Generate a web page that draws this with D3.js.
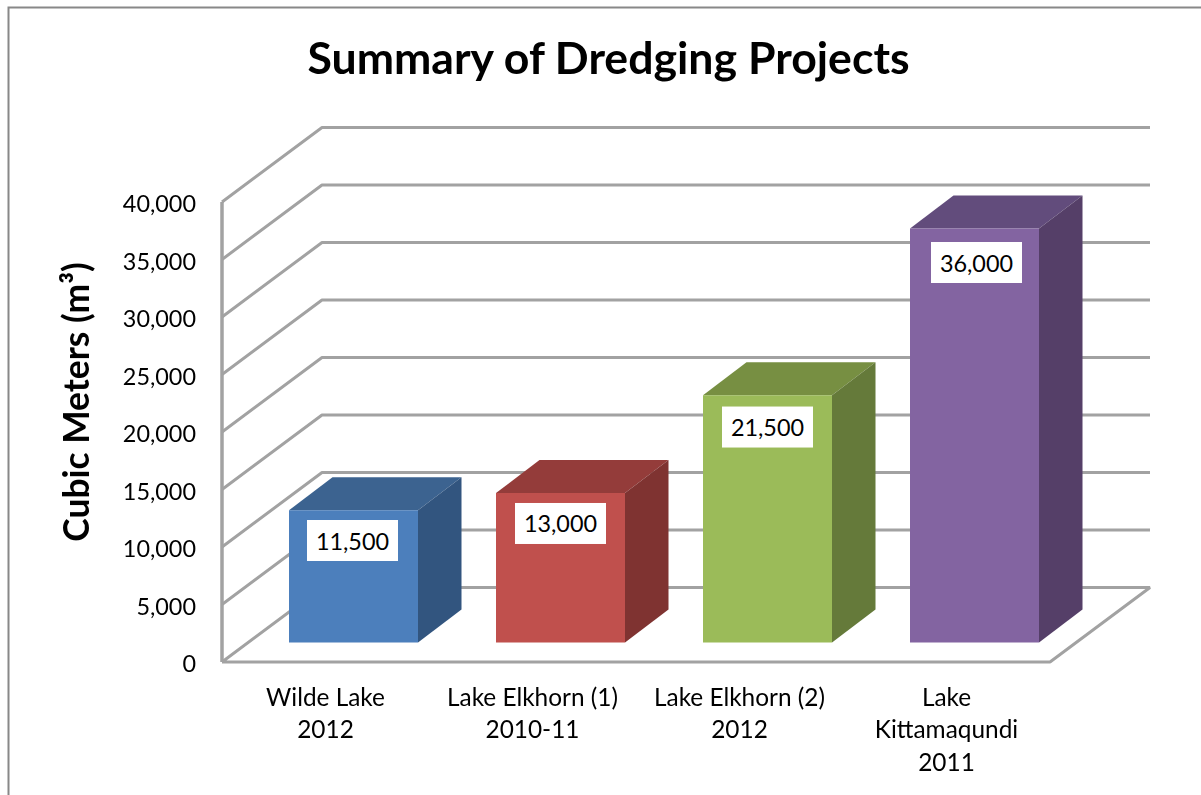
<!DOCTYPE html>
<html><head><meta charset="utf-8">
<script src="https://cdn.jsdelivr.net/npm/d3@7"></script>
<style>html,body{margin:0;padding:0;background:#fff;overflow:hidden}svg{display:block;filter:blur(0.4px)}text{font-family:Lato,"Open Sans",sans-serif;fill:#000}</style>
</head><body><div id="chart"></div>
<script>
const categories = ["Wilde Lake|2012","Lake Elkhorn (1)|2010-11","Lake Elkhorn (2)|2012","Lake|Kittamaqundi|2011"];
const values = [11500,13000,21500,36000];
const valueLabels = ["11,500","13,000","21,500","36,000"];
const tickValues = [0,5000,10000,15000,20000,25000,30000,35000,40000];
const faceColors = ["#4c7fbc","#c0504d","#9bbb59","#8364a1"];
const topColors = ["#3c6390","#943c3a","#778f42","#624c7c"];
const sideColors = ["#32557f","#7f3331","#657a3a","#553f68"];

const W=1201,H=795, GRID="#a2a2a2";
const svg=d3.select("#chart").append("svg").attr("width",W).attr("height",H);
const y=d3.scaleLinear().domain([0,40000]).range([662,202]);
const x=d3.scaleBand().domain(categories).range([222,1050]).paddingInner(78/207).paddingOuter(39/207);
const band=d3.scaleBand().domain(categories).range([222,1050]);
const back={dx:100,dy:-74.5}, front={dx:28,dy:-19.5}, depth={dx:43.5,dy:-33};
const labelY=d3.scaleLinear().domain([11500,36000]).range([540.5,262.5]);
const labelNudge=[-1,0,0,2];

svg.append("path").attr("d",`M8.5,795V7.5H${W}`).attr("fill","none").attr("stroke","#888").attr("stroke-width",2);

// walls and gridlines
const grid=svg.append("g").attr("fill","none").attr("stroke",GRID).attr("stroke-width",3).attr("stroke-linejoin","bevel");
grid.selectAll("path.g").data(tickValues.filter(d=>d>0)).join("path").attr("class","g")
  .attr("d",d=>d3.line()([[222,y(d)],[222+back.dx,y(d)+back.dy],[1050+back.dx,y(d)+back.dy]]));
grid.append("path").attr("d",d3.line()([[222,y(0)],[222+back.dx,y(0)+back.dy],[1050+back.dx,y(0)+back.dy],[1050,y(0)],[222,y(0)]]));
grid.append("path").attr("d",d3.line()([[222,y(40000)],[222,y(0)]])).attr("stroke-width",3.5);

// bars
const bars=svg.selectAll("g.bar").data(categories.map((c,i)=>({c,i,v:values[i]}))).join("g").attr("class","bar");
function geo(d){
  const x0=x(d.c)+front.dx,x1=x0+x.bandwidth(),yb=y(0)+front.dy,yt=y(d.v)+front.dy;
  return {x0,x1,yb,yt};
}
bars.append("path").attr("fill",d=>topColors[d.i]).attr("d",d=>{const g=geo(d);
  return d3.line()([[g.x0,g.yt],[g.x0+depth.dx,g.yt+depth.dy],[g.x1+depth.dx,g.yt+depth.dy],[g.x1,g.yt]])+"Z";});
bars.append("path").attr("fill",d=>sideColors[d.i]).attr("d",d=>{const g=geo(d);
  return d3.line()([[g.x1,g.yt],[g.x1+depth.dx,g.yt+depth.dy],[g.x1+depth.dx,g.yb+depth.dy],[g.x1,g.yb]])+"Z";});
bars.append("rect").attr("fill",d=>faceColors[d.i])
  .attr("x",d=>geo(d).x0).attr("y",d=>geo(d).yt).attr("width",x.bandwidth()).attr("height",d=>geo(d).yb-geo(d).yt);

// value labels
const lab=svg.selectAll("g.lab").data(categories.map((c,i)=>({c,i,v:values[i]}))).join("g").attr("class","lab")
  .attr("transform",d=>`translate(${geo(d).x0+x.bandwidth()/2+labelNudge[d.i]},${labelY(d.v)})`);
lab.append("rect").attr("x",-45.5).attr("y",-20.5).attr("width",91).attr("height",41).attr("fill","#fff");
lab.append("text").attr("text-anchor","middle").attr("y",9).attr("font-size",23.4).text(d=>valueLabels[d.i]);

// axes
const yAxis=svg.append("g").attr("transform","translate(222,0)")
  .call(d3.axisLeft(y).tickValues(tickValues).tickSize(0).tickPadding(26).tickFormat(d3.format(",")));
yAxis.select(".domain").remove();
yAxis.selectAll("text").attr("font-size",23.4).attr("font-family","Lato").attr("dy","9.5").style("fill","#000");

const xAxis=svg.append("g").attr("transform",`translate(0,662)`)
  .call(d3.axisBottom(band).tickSize(0).tickFormat(""));
xAxis.select(".domain").remove();
xAxis.selectAll(".tick text").attr("font-size",24.4).attr("font-family","Lato").style("fill","#000").attr("y",0).attr("dy",0)
  .each(function(d){
    const t=d3.select(this);
    d.split("|").forEach((s,i)=>t.append("tspan").attr("x",0).attr("y",44+i*32.3).text(s));
  });

svg.append("text").attr("x",608.5).attr("y",74).attr("text-anchor","middle").attr("font-size",44.6).attr("font-weight",700).text("Summary of Dredging Projects");
svg.append("text").attr("transform","translate(89,402) rotate(-90)").attr("text-anchor","middle").attr("font-size",35.4).attr("font-weight",700).text("Cubic Meters (m³)");
</script></body></html>
